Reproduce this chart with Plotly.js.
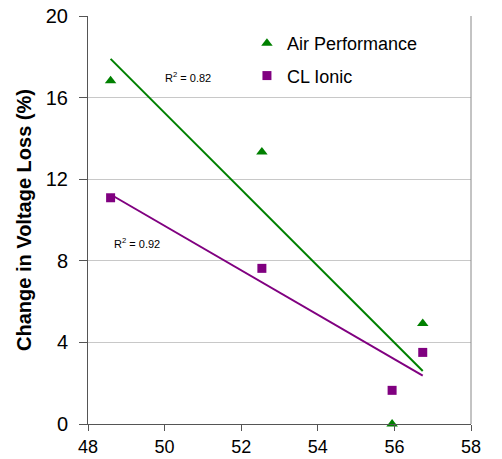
<!DOCTYPE html>
<html>
<head>
<meta charset="utf-8">
<script src="https://cdn.plot.ly/plotly-3.0.1.min.js"></script>
<style>html,body{margin:0;padding:0;background:#fff;}#chart{width:502px;height:459px;}</style>
</head>
<body>
<div id="chart"></div>
<script>
// Data
const xValues = [48.59, 52.54, 55.94, 56.74];
const airPerformance = [16.83, 13.33, 0.0, 4.93];
const clIonic = [11.09, 7.63, 1.65, 3.51];
// Linear trend lines (end points)
const trendX = [48.59, 56.74];
const airTrend = [17.9, 2.6];
const clTrend = [11.25, 2.37];
const xTicks = [48, 50, 52, 54, 56, 58];
const yTicks = [0, 4, 8, 12, 16, 20];
const r2Labels = ['R<sup>2</sup> = 0.82', 'R<sup>2</sup> = 0.92'];

const green = '#008000';
const purple = '#800080';

const traces = [
  {x: trendX, y: airTrend, mode: 'lines', line: {color: green, width: 2}, showlegend: false, hoverinfo: 'skip'},
  {x: trendX, y: clTrend, mode: 'lines', line: {color: purple, width: 2}, showlegend: false, hoverinfo: 'skip'},
  {x: xValues, y: airPerformance, mode: 'markers', name: 'Air Performance', legendgroup: 'a',
   marker: {symbol: 'triangle-up', size: 10, color: green}, cliponaxis: false},
  {x: xValues, y: clIonic, mode: 'markers', name: 'CL Ionic', legendgroup: 'b',
   marker: {symbol: 'square', size: 9, color: purple}, cliponaxis: false}
];

const layout = {
  width: 502, height: 459,
  margin: {l: 88, r: 31, t: 16, b: 35},
  paper_bgcolor: '#fff', plot_bgcolor: '#fff',
  font: {family: 'Liberation Sans, Arial, sans-serif', color: '#000'},
  xaxis: {
    range: [48, 58], tickvals: xTicks, ticktext: xTicks.map(String),
    showgrid: false, zeroline: false, showline: true, linecolor: '#555', linewidth: 1,
    ticks: 'outside', ticklen: 6, tickcolor: '#555', tickfont: {size: 18}
  },
  yaxis: {
    range: [0, 20], tickvals: yTicks, ticktext: yTicks.map(String),
    showgrid: true, gridcolor: '#c8c8c8', zeroline: false, showline: true, linecolor: '#555', linewidth: 1,
    ticks: 'outside', ticklen: 8, tickcolor: '#555', tickfont: {size: 20}, ticklabelstandoff: 7,
    title: {text: '<b>Change in Voltage Loss (%)</b>', font: {size: 20}, standoff: 8}
  },
  showlegend: true,
  legend: {x: 0.415, y: 0.978, xanchor: 'left', yanchor: 'top', bgcolor: 'rgba(0,0,0,0)',
           font: {size: 18}, traceorder: 'grouped', tracegroupgap: 6},
  shapes: [
    {type: 'line', xref: 'paper', yref: 'paper', x0: 1, x1: 1, y0: 0, y1: 1, line: {color: '#888', width: 1}}
  ],
  annotations: [
    {x: 50.61, y: 17.0, text: r2Labels[0], showarrow: false, font: {size: 11}},
    {x: 49.27, y: 8.87, text: r2Labels[1], showarrow: false, font: {size: 11}}
  ]
};

Plotly.newPlot('chart', traces, layout, {displayModeBar: false, staticPlot: true});
</script>
</body>
</html>
